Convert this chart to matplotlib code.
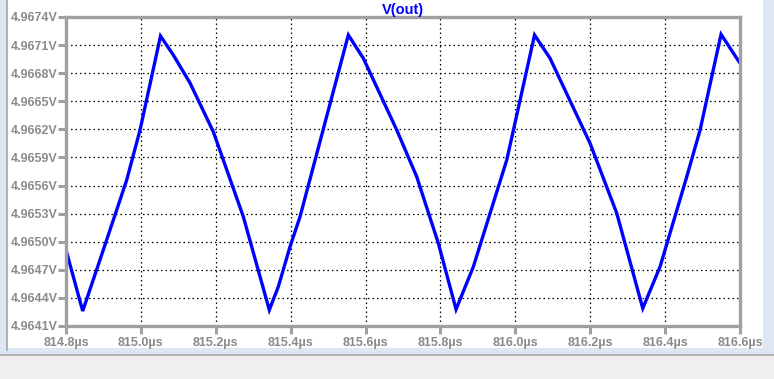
import matplotlib
matplotlib.use("Agg")
import matplotlib.pyplot as plt
from matplotlib.patches import Rectangle
from matplotlib.lines import Line2D

# Data (time in µs, voltage in V)
t_us = [814.800, 814.8446, 814.8996, 814.9621, 814.9977, 815.0524, 815.0866,
        815.1312, 815.1934, 815.2736, 815.3430, 815.3670, 815.3983, 815.4250,
        815.5540, 815.5941, 815.6833, 815.7367, 815.7944, 815.8417, 815.8879,
        815.9771, 816.0513, 816.0927, 816.1996, 816.2709, 816.3403, 816.3865,
        816.4578, 816.4934, 816.5494, 816.6001]
v_out = [4.964912, 4.964260, 4.964912, 4.965659, 4.966193, 4.967197, 4.966994,
         4.966695, 4.966175, 4.965267, 4.964271, 4.964520, 4.964947, 4.965267,
         4.967208, 4.966959, 4.966193, 4.965694, 4.964983, 4.964278, 4.964733,
         4.965873, 4.967208, 4.966959, 4.966051, 4.965304, 4.964289, 4.964733,
         4.965694, 4.966193, 4.967215, 4.966906]

x_ticks = [814.8, 815.0, 815.2, 815.4, 815.6, 815.8, 816.0, 816.2, 816.4, 816.6]
x_labels = ["814.8µs", "815.0µs", "815.2µs", "815.4µs", "815.6µs",
            "815.8µs", "816.0µs", "816.2µs", "816.4µs", "816.6µs"]
y_ticks = [4.9641, 4.9644, 4.9647, 4.9650, 4.9653, 4.9656, 4.9659,
           4.9662, 4.9665, 4.9668, 4.9671, 4.9674]
y_labels = ["4.9641V", "4.9644V", "4.9647V", "4.9650V", "4.9653V", "4.9656V",
            "4.9659V", "4.9662V", "4.9665V", "4.9668V", "4.9671V", "4.9674V"]
title = "V(out)"

W, H = 774, 379
fig = plt.figure(figsize=(W / 100, H / 100), dpi=100, facecolor="#f0eeee")

def fx(px):
    return px / W

def fy(py):
    return 1 - py / H

# window frame
fig.patches.append(Rectangle((0, fy(354)), 1, 1 - fy(354), transform=fig.transFigure,
                             facecolor="#dde7f3", edgecolor="none", zorder=-3))
fig.patches.append(Rectangle((fx(8), fy(348)), fx(763) - fx(8), 1 - fy(348),
                             transform=fig.transFigure, facecolor="white",
                             edgecolor="none", zorder=-2))
fig.lines.append(Line2D([fx(7), fx(7)], [fy(350), 1], transform=fig.transFigure,
                        color="#a8a8a8", lw=1.2))
fig.lines.append(Line2D([0, 1], [fy(355), fy(355)], transform=fig.transFigure,
                        color="#a8a8a8", lw=1.2))

ax = fig.add_axes([fx(66), fy(326), fx(740) - fx(66), fy(17) - fy(326)])
ax.set_facecolor("white")
ax.plot(t_us, v_out, color="#0000ff", lw=2.4, solid_joinstyle="miter")
ax.set_xlim(814.8, 816.6)
ax.set_ylim(4.9641, 4.9674)

ax.set_xticks(x_ticks)
ax.set_xticklabels(x_labels)
ax.set_yticks(y_ticks)
ax.set_yticklabels(y_labels)

lab_color = "#8a8a8a"
for lab in ax.get_xticklabels() + ax.get_yticklabels():
    lab.set_fontfamily("Liberation Sans")
    lab.set_fontweight("bold")
    lab.set_color(lab_color)
    lab.set_fontsize(9)

ax.tick_params(axis="both", direction="out", color="#a0a0a0", width=2.2, length=6)
ax.tick_params(axis="y", pad=0)
ax.tick_params(axis="x", pad=2)

ax.grid(True, color="black", lw=0.9, linestyle=(0, (1.2, 2.4)))
for s in ax.spines.values():
    s.set_color("#a0a0a0")
    s.set_linewidth(2.4)

# partially visible label above the top (cut off by the window edge, as in the reference)
fig.text(fx(60), fy(-10), "4.9677V", ha="right", va="center", fontsize=9,
         fontweight="bold", color=lab_color, family="Liberation Sans")

ax.set_title(title, color="#0000ff", fontsize=10.5, fontweight="bold",
             family="Liberation Sans", pad=2)

fig.savefig("out.png", dpi=100, facecolor=fig.get_facecolor())
